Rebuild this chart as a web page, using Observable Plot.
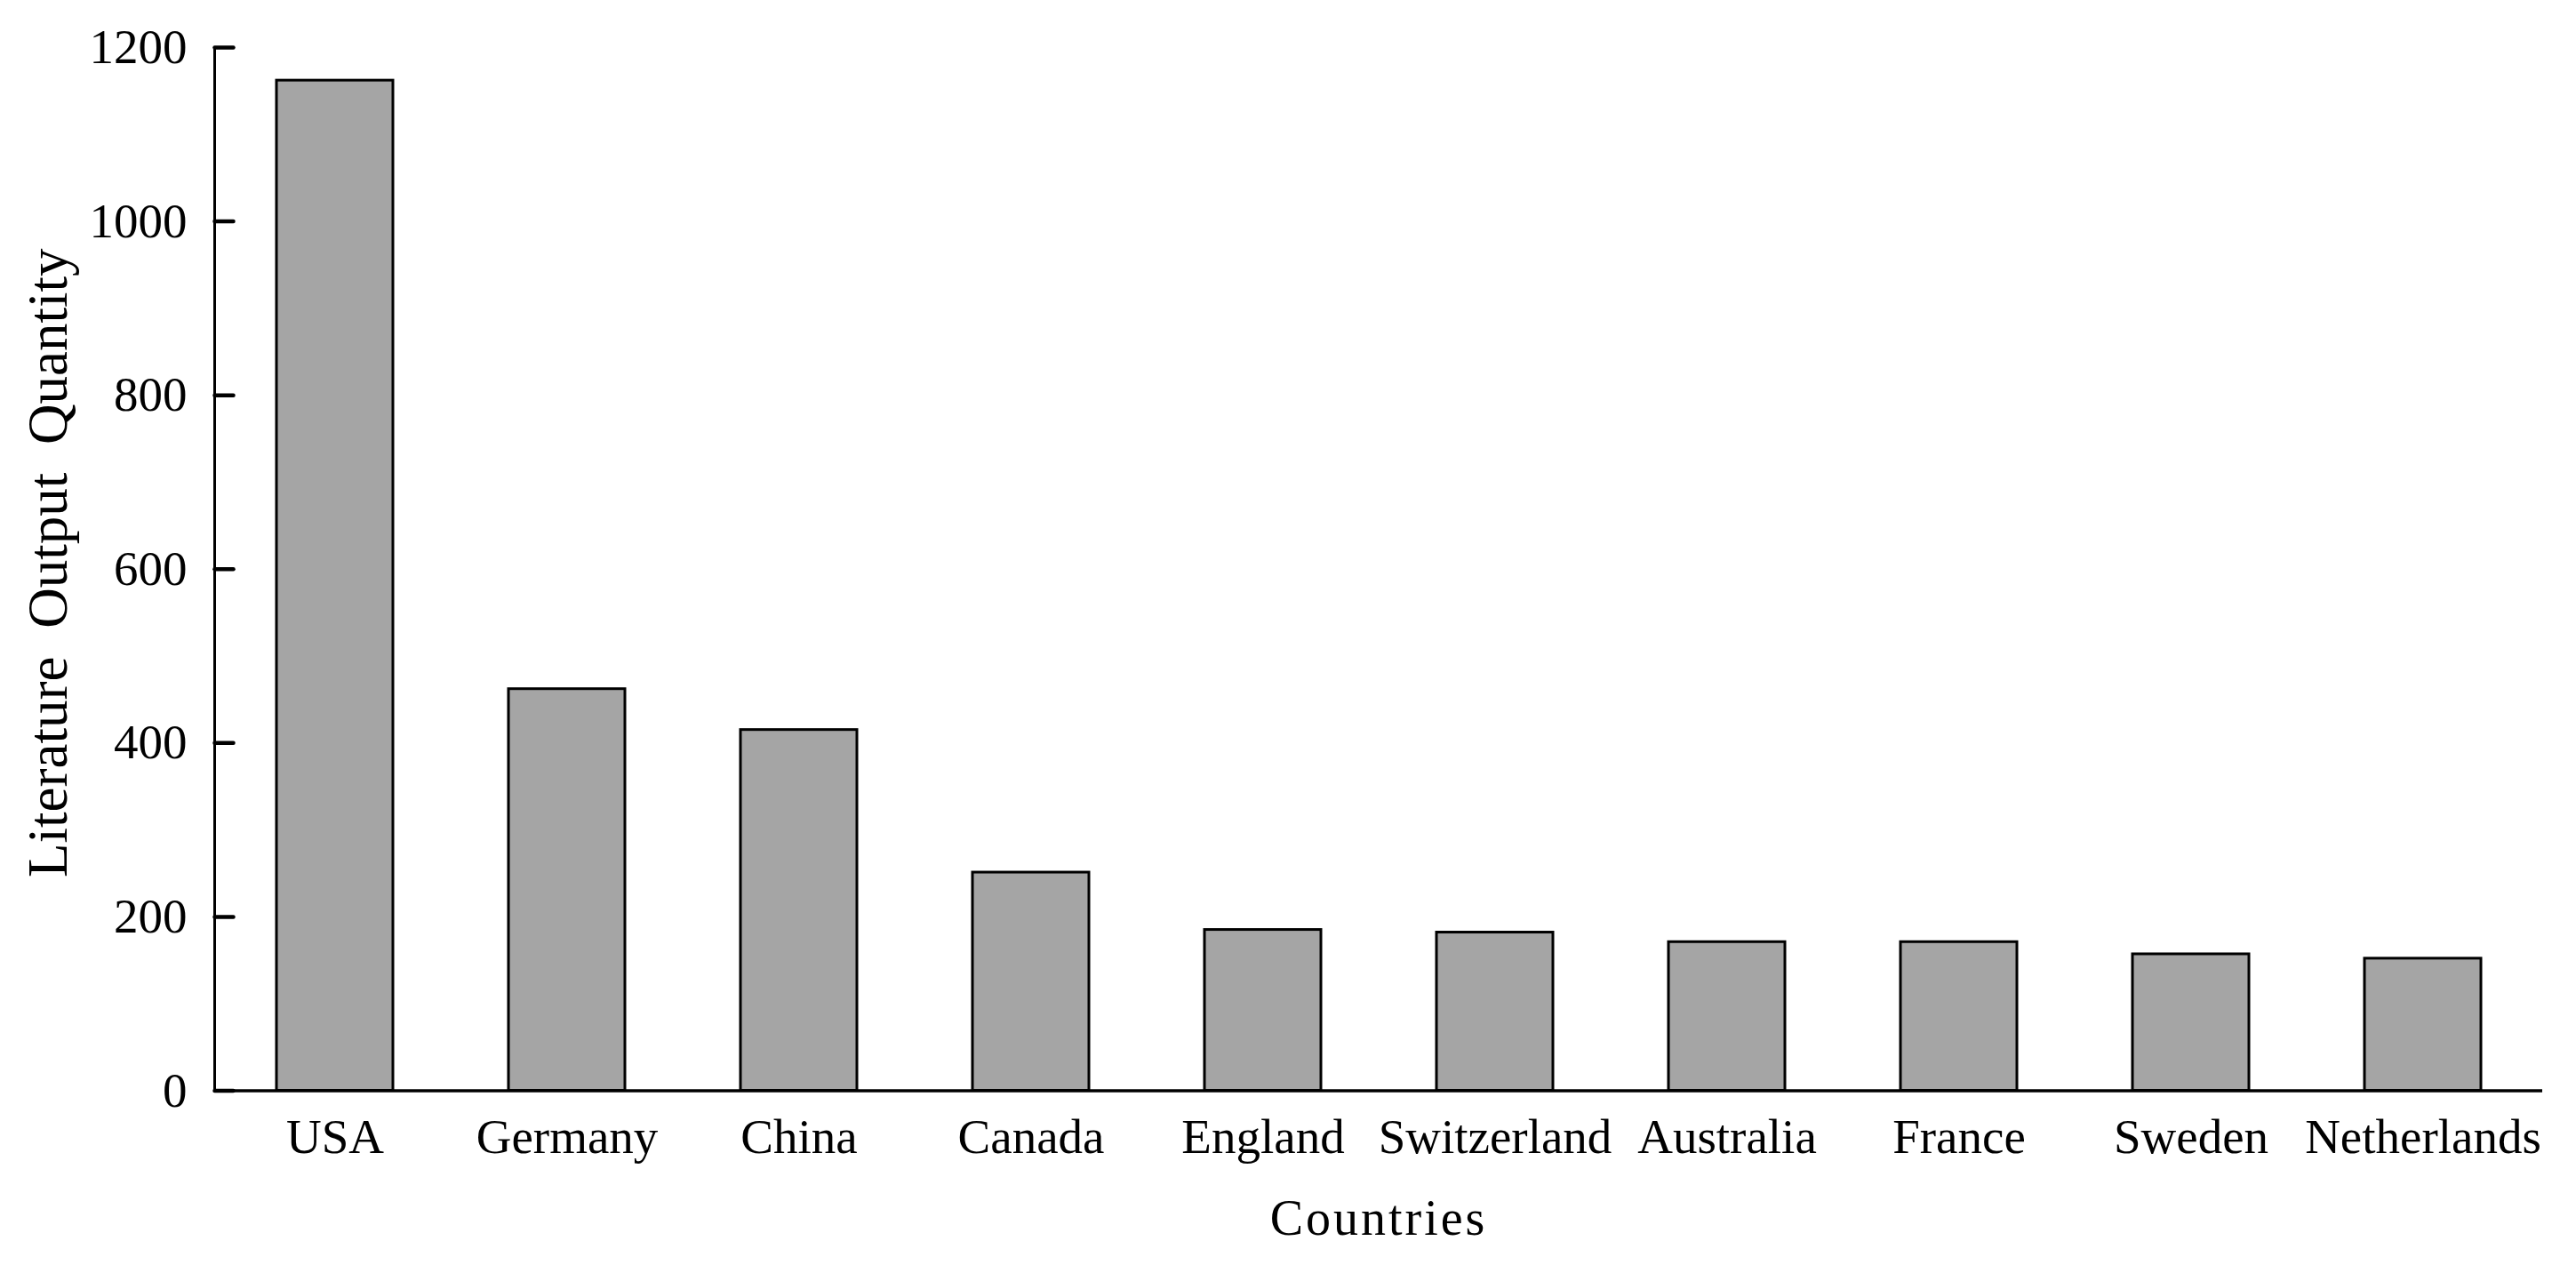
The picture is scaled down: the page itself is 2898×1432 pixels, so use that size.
<!DOCTYPE html>
<html>
<head>
<meta charset="utf-8">
<script src="https://cdn.jsdelivr.net/npm/d3@7"></script>
<script src="https://cdn.jsdelivr.net/npm/@observablehq/plot@0.6"></script>
<style>
  html, body { margin: 0; padding: 0; background: #fff; }
  #chart svg { display: block; }
</style>
</head>
<body>
<div id="chart"></div>
<script>
const countries = ["USA", "Germany", "China", "Canada", "England", "Switzerland", "Australia", "France", "Sweden", "Netherlands"];
const counts = [1162, 462, 415, 251, 185, 182, 171, 171, 157, 152];
const yTicks = [0, 200, 400, 600, 800, 1000, 1200];
const xTitle = "Countries";
const yTitle = "Literature Output Quantity";

const data = countries.map((c, i) => ({country: c, count: counts[i]}));

// straight tick line shape for the vector mark
const tickShape = {draw(context, l) { context.moveTo(0, 0); context.lineTo(0, -l); }};

const chart = Plot.plot({
  width: 2898,
  height: 1432,
  marginLeft: 241,
  marginRight: 38,
  marginTop: 53,
  marginBottom: 205.5,
  style: {fontFamily: "'Liberation Serif', 'Times New Roman', serif", fontSize: "55px", color: "black", background: "white"},
  x: {domain: countries, paddingInner: 0.5, paddingOuter: 0.25, axis: null},
  y: {domain: [0, 1200], axis: null},
  marks: [
    Plot.barY(data, {x: "country", y: "count", fill: "#a5a5a5", stroke: "black", strokeWidth: 3}),
    Plot.ruleY([0], {stroke: "black", strokeWidth: 3.5}),
    Plot.frame({anchor: "left", stroke: "black", strokeWidth: 3}),
    // inward-pointing tick marks
    Plot.vector(yTicks, {y: d => d, frameAnchor: "left", rotate: 90, length: 21, anchor: "start", shape: tickShape, stroke: "black", strokeWidth: 4.5}),
    // tick labels
    Plot.axisY({ticks: yTicks, tickSize: 0, tickPadding: 31, stroke: "none", label: null, fontSize: 55, tickFormat: d => String(d)}),
    Plot.axisX({tickSize: 0, tickPadding: 31, label: null, fontSize: 55}),
    Plot.text([xTitle], {text: d => d, frameAnchor: "bottom", dy: 162, fontSize: 56, textAnchor: "middle", fill: "black"}),
    Plot.text([yTitle], {text: d => d, frameAnchor: "left", rotate: -90, dx: -186.5, dy: -7, fontSize: 63, textAnchor: "middle", fill: "black"})
  ]
});

document.getElementById("chart").appendChild(chart);

d3.select(chart).selectAll("text").each(function() {
  const t = this.textContent;
  if (t === xTitle) d3.select(this).attr("letter-spacing", "3px");
  if (t === yTitle) d3.select(this).attr("word-spacing", "16px");
});
</script>
</body>
</html>
